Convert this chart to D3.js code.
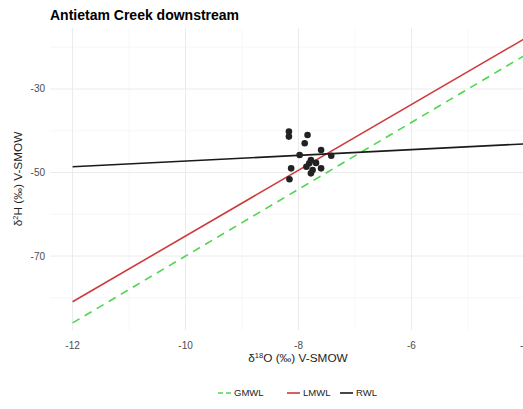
<!DOCTYPE html>
<html>
<head>
<meta charset="utf-8">
<script src="https://cdn.jsdelivr.net/npm/d3@7"></script>
<style>
  body { margin: 0; background: #fff; }
  svg { font-family: "Liberation Sans", Arial, sans-serif; display: block; }
</style>
</head>
<body>
<div id="chart"></div>
<script>
// samples (d18O, d2H)
const d18O = [-8.17, -8.17, -7.84, -7.89, -7.60, -7.98, -7.42, -7.78, -7.81, -7.69, -8.13, -7.86, -7.75, -7.60, -7.78, -8.16];
const d2H = [-40.2, -41.4, -41.0, -43.0, -44.6, -45.8, -46.0, -47.0, -47.8, -47.7, -49.0, -48.6, -49.4, -49.0, -50.2, -51.6];

// water lines: d2H = slope * d18O + intercept
const lineNames = ["GMWL", "LMWL", "RWL"];
const slopes = [8, 7.87, 0.686];
const intercepts = [10, 13.5, -40.4];
const lineRange = [-12, -4];

const xMajor = [-12, -10, -8, -6, -4];
const xMinor = [-11, -9, -7, -5];
const yMajor = [-30, -50, -70];
const yMinor = [-20, -40, -60, -80];

const width = 523, height = 409;
const panel = { left: 50, right: 547, top: 28, bottom: 330 };

const svg = d3.select("#chart").append("svg")
  .attr("width", width)
  .attr("height", height);

const x = d3.scaleLinear().domain([-12.4, -3.6]).range([panel.left, panel.right]);
const y = d3.scaleLinear().domain([-87.7, -15.4]).range([panel.bottom, panel.top]);

const colors = { GMWL: "#4fd64f", LMWL: "#cf3a3a", RWL: "#1a1a1a" };

// grid
const grid = svg.append("g");
grid.selectAll(".xminor").data(xMinor).join("line")
  .attr("x1", d => x(d)).attr("x2", d => x(d))
  .attr("y1", panel.top).attr("y2", panel.bottom)
  .attr("stroke", "#f2f2f2").attr("stroke-width", 0.6);
grid.selectAll(".yminor").data(yMinor).join("line")
  .attr("y1", d => y(d)).attr("y2", d => y(d))
  .attr("x1", panel.left).attr("x2", panel.right)
  .attr("stroke", "#f2f2f2").attr("stroke-width", 0.6);
grid.selectAll(".xmajor").data(xMajor).join("line")
  .attr("x1", d => x(d)).attr("x2", d => x(d))
  .attr("y1", panel.top).attr("y2", panel.bottom)
  .attr("stroke", "#ebebeb").attr("stroke-width", 1);
grid.selectAll(".ymajor").data(yMajor).join("line")
  .attr("y1", d => y(d)).attr("y2", d => y(d))
  .attr("x1", panel.left).attr("x2", panel.right)
  .attr("stroke", "#ebebeb").attr("stroke-width", 1);

// tick labels
svg.append("g").selectAll("text").data(xMajor).join("text")
  .attr("x", d => x(d)).attr("y", 349)
  .attr("text-anchor", "middle")
  .attr("font-size", 10).attr("fill", "#4d4d4d")
  .text(d => d);
svg.append("g").selectAll("text").data(yMajor).join("text")
  .attr("x", 45).attr("y", d => y(d) + 3.5)
  .attr("text-anchor", "end")
  .attr("font-size", 10).attr("fill", "#4d4d4d")
  .text(d => d);

// lines
const lineData = lineNames.map((name, i) => ({
  name,
  pts: lineRange.map(v => [v, slopes[i] * v + intercepts[i]])
}));
const line = d3.line().x(d => x(d[0])).y(d => y(d[1]));

svg.append("g").selectAll("path").data(lineData).join("path")
  .attr("d", d => line(d.pts))
  .attr("fill", "none")
  .attr("stroke", d => colors[d.name])
  .attr("stroke-width", 1.6)
  .attr("stroke-dasharray", d => d.name === "GMWL" ? "8,6" : null);

// points
svg.append("g").selectAll("circle").data(d18O).join("circle")
  .attr("cx", d => x(d))
  .attr("cy", (d, i) => y(d2H[i]))
  .attr("r", 3.3)
  .attr("fill", "#222");

// title
svg.append("text")
  .attr("x", 50).attr("y", 19.5)
  .attr("font-size", 14).attr("font-weight", "bold")
  .attr("fill", "#000")
  .text("Antietam Creek downstream");

// axis titles
const xt = svg.append("text")
  .attr("x", 298).attr("y", 362)
  .attr("text-anchor", "middle")
  .attr("font-size", 11.8).attr("fill", "#222");
xt.append("tspan").text("\u03b4");
xt.append("tspan").attr("font-size", 7.5).attr("dy", -4).text("18");
xt.append("tspan").attr("dy", 4).text("O (\u2030) V-SMOW");

const yt = svg.append("text")
  .attr("transform", `translate(22,${(panel.top + panel.bottom) / 2}) rotate(-90)`)
  .attr("text-anchor", "middle")
  .attr("font-size", 11.8).attr("fill", "#222");
yt.append("tspan").text("\u03b4");
yt.append("tspan").attr("font-size", 7.5).attr("dy", -4).text("2");
yt.append("tspan").attr("dy", 4).text("H (\u2030) V-SMOW");

// legend
const legend = svg.append("g").attr("transform", "translate(0,393)");
const keyStarts = [218, 287, 340];
lineNames.forEach((name, i) => {
  const g = legend.append("g").attr("transform", `translate(${keyStarts[i]},0)`);
  g.append("line")
    .attr("x1", 0).attr("x2", 13).attr("y1", 0).attr("y2", 0)
    .attr("stroke", colors[name]).attr("stroke-width", 1.6)
    .attr("stroke-dasharray", name === "GMWL" ? "5,3" : null);
  g.append("text")
    .attr("x", 16).attr("y", 3.3)
    .attr("font-size", 9.5).attr("fill", "#222")
    .text(name);
});
</script>
</body>
</html>
